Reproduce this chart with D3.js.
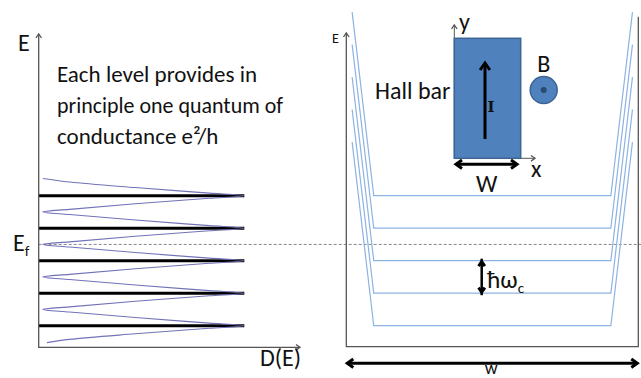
<!DOCTYPE html>
<meta charset="utf-8">
<head>
<title>Landau levels and Hall bar</title>
<style>
body { margin: 0; background: #fff; }
svg { display: block; }
text { font-family: Carlito, Lato, sans-serif; fill: #111; }
.axis { stroke: #555; stroke-width: 1.3px; fill: none; }
.lvl { stroke: #000; stroke-width: 3px; }
.dos { stroke: #7272b8; stroke-width: 1.1px; fill: none; }
.edge { stroke: #8db3e2; stroke-width: 1.2px; fill: none; }
.fermi { stroke: #888; stroke-width: 1px; stroke-dasharray: 3,2; }
.thick { stroke: #000; stroke-width: 3px; fill: none; }
</style>
</head>
<body>
<script src="https://cdn.jsdelivr.net/npm/d3@7"></script>
<script>

  var width = 641,
    height = 378;

  // energies in units of the level spacing
  const levels = [0, 1, 2, 3, 4];
  const fermiLevel = 2.5;

  // density of states
  const dosE = [4.53, 4.42, 4.25, 4.08, 4.0, 3.92, 3.75, 3.58, 3.5,
                3.42, 3.25, 3.08, 3.0, 2.92, 2.75, 2.58, 2.5,
                2.42, 2.25, 2.08, 2.0, 1.92, 1.75, 1.58, 1.5,
                1.42, 1.25, 1.08, 1.0, 0.92, 0.75, 0.58, 0.5,
                0.42, 0.25, 0.08, 0.0, -0.08, -0.25, -0.42, -0.52];
  const dosD = [0.02, 0.15, 0.47, 0.83, 1.0, 0.83, 0.47, 0.15, 0.02,
                0.15, 0.47, 0.83, 1.0, 0.83, 0.47, 0.15, 0.02,
                0.15, 0.47, 0.83, 1.0, 0.83, 0.47, 0.15, 0.02,
                0.15, 0.47, 0.83, 1.0, 0.83, 0.47, 0.15, 0.02,
                0.15, 0.47, 0.83, 1.0, 0.83, 0.47, 0.15, 0.04];

  // confining edge of the bar: position across the width, rise above level
  const edgePos = [0.02, 0.094, 0.906, 0.98];
  const edgeRise = [5.65, 0, 0, 5.65];

  const note = ['Each level provides in', 'principle one quantum of', 'conductance e\u00b2/h'];

  const svg = d3.select('body')
      .append('svg')
      .attr('width', width)
      .attr('height', height);

  const y = d3.scaleLinear().domain([0, 4]).range([325.7, 195.7]);
  const xD = d3.scaleLinear().domain([0, 1]).range([38.7, 244.3]);
  const xW = d3.scaleLinear().domain([0, 1]).range([346.3, 638.3]);

  function arrowHead(g, x, yy, dir, size, cls) {
    // open chevron; dir: 'up', 'down', 'left', 'right'
    var s = size, p;
    if (dir === 'up') p = [[x - s * 0.7, yy + s], [x, yy], [x + s * 0.7, yy + s]];
    if (dir === 'down') p = [[x - s * 0.7, yy - s], [x, yy], [x + s * 0.7, yy - s]];
    if (dir === 'right') p = [[x - s, yy - s * 0.7], [x, yy], [x - s, yy + s * 0.7]];
    if (dir === 'left') p = [[x + s, yy - s * 0.7], [x, yy], [x + s, yy + s * 0.7]];
    g.append('path').attr('class', cls).attr('d', d3.line()(p));
  }

  // ---- left panel: density of states ----
  const left = svg.append('g');

  left.append('line').attr('class', 'fermi')
      .attr('x1', xD(0)).attr('x2', width)
      .attr('y1', y(fermiLevel)).attr('y2', y(fermiLevel));

  left.selectAll('line.lvl')
      .data(levels)
    .enter().append('line')
      .attr('class', 'lvl')
      .attr('x1', xD(0)).attr('x2', xD(1))
      .attr('y1', d => y(d)).attr('y2', d => y(d));

  left.append('path')
      .datum(d3.range(dosE.length))
      .attr('class', 'dos')
      .attr('d', d3.line()
        .x(i => xD(dosD[i]))
        .y(i => y(dosE[i]))
        .curve(d3.curveMonotoneY));

  left.append('path').attr('class', 'axis')
      .attr('d', 'M' + xD(0) + ',34V347.3H300');
  arrowHead(left, xD(0), 34, 'up', 4, 'axis');
  arrowHead(left, 300, 347.3, 'right', 4, 'axis');

  left.append('text').attr('x', 18).attr('y', 51).style('font-size', '24px').text('E');
  const ef = left.append('text').attr('x', 13).attr('y', 251).style('font-size', '24px');
  ef.append('tspan').text('E');
  ef.append('tspan').attr('dy', 5).style('font-size', '15px').text('f');
  left.append('text').attr('x', 260).attr('y', 366).style('font-size', '24px').text('D(E)');

  const noteText = left.selectAll('text.note')
      .data(note)
    .enter().append('text')
      .attr('class', 'note')
      .attr('x', 57)
      .attr('y', (d, i) => 82 + i * 31)
      .style('font-size', '23px')
      .text(d => d);
  // keep the long middle line inside the block width
  noteText.filter((d, i) => i === 1)
      .attr('textLength', 226)
      .attr('lengthAdjust', 'spacingAndGlyphs');

  // ---- right panel: edge states across the bar ----
  const right = svg.append('g');

  right.selectAll('path.edge')
      .data(levels)
    .enter().append('path')
      .attr('class', 'edge')
      .attr('d', lv => d3.line()(edgePos.map((p, i) => [xW(p), y(lv + edgeRise[i])])));

  right.append('path').attr('class', 'axis')
      .attr('d', 'M' + xW(0) + ',33V346.7H' + xW(1) + 'V16.7');
  arrowHead(right, xW(0), 33, 'up', 4, 'axis');
  right.append('text').attr('x', 332).attr('y', 43).style('font-size', '14px').text('E');

  // width arrow
  right.append('line').attr('class', 'thick')
      .attr('x1', xW(0) + 2).attr('x2', xW(1) - 2)
      .attr('y1', 363.3).attr('y2', 363.3);
  arrowHead(right, xW(0) + 1, 363.3, 'left', 6, 'thick');
  arrowHead(right, xW(1) - 1, 363.3, 'right', 6, 'thick');
  right.append('text').attr('x', xW(0.5) - 1).attr('y', 374).attr('text-anchor', 'middle')
      .style('font-size', '18px').text('w');

  // level spacing
  right.append('line').attr('class', 'thick').style('stroke-width', '2.5px')
      .attr('x1', 481.7).attr('x2', 481.7)
      .attr('y1', y(1) + 2).attr('y2', y(2) - 2);
  arrowHead(right, 481.7, y(2) + 1, 'up', 4.5, 'thick');
  arrowHead(right, 481.7, y(1) - 1, 'down', 4.5, 'thick');
  const hw = right.append('text').attr('x', 487).attr('y', 288).style('font-size', '25px');
  hw.append('tspan').text('\u0127\u03c9');
  hw.append('tspan').attr('dy', 5).style('font-size', '15px').text('c');

  // Hall bar sketch
  const bar = right.append('g');
  bar.append('line').attr('class', 'axis').style('stroke-width', '1px')
      .attr('x1', 454.3).attr('x2', 454.3).attr('y1', 158.3).attr('y2', 25);
  arrowHead(bar, 454.3, 25, 'up', 4, 'axis');
  bar.append('line').attr('class', 'axis').style('stroke-width', '1px')
      .attr('x1', 454.3).attr('x2', 535).attr('y1', 158.3).attr('y2', 158.3);
  arrowHead(bar, 535, 158.3, 'right', 4, 'axis');

  bar.append('rect')
      .attr('x', 454.3).attr('y', 38.3)
      .attr('width', 66.4).attr('height', 120)
      .attr('fill', '#4f81bd').attr('stroke', '#3c6494').attr('stroke-width', 1.5);

  bar.append('line').attr('class', 'thick')
      .attr('x1', 485).attr('x2', 485).attr('y1', 139).attr('y2', 64);
  arrowHead(bar, 485, 63, 'up', 7, 'thick');
  bar.append('text').attr('x', 491).attr('y', 112).attr('text-anchor', 'middle')
      .style('font-family', 'DejaVu Serif, serif').style('font-size', '15px').style('font-weight', 'bold')
      .text('I');

  bar.append('line').attr('class', 'thick')
      .attr('x1', 457).attr('x2', 516).attr('y1', 164.3).attr('y2', 164.3);
  arrowHead(bar, 456, 164.3, 'left', 6, 'thick');
  arrowHead(bar, 517, 164.3, 'right', 6, 'thick');

  bar.append('text').attr('x', 375).attr('y', 99).style('font-size', '24px').text('Hall bar');
  bar.append('text').attr('x', 459).attr('y', 30).style('font-size', '24px').text('y');
  bar.append('text').attr('x', 531).attr('y', 177).style('font-size', '24px').text('x');
  bar.append('text').attr('x', 486.7).attr('y', 192).attr('text-anchor', 'middle')
      .style('font-size', '24px').text('W');

  bar.append('circle').attr('cx', 543.7).attr('cy', 90).attr('r', 13.5)
      .attr('fill', '#4f81bd').attr('stroke', '#3c6494').attr('stroke-width', 1.5);
  bar.append('circle').attr('cx', 543.7).attr('cy', 90).attr('r', 3)
      .attr('fill', '#2a4a73');
  bar.append('text').attr('x', 543.7).attr('y', 72).attr('text-anchor', 'middle')
      .style('font-size', '24px').text('B');

</script>
</body>
